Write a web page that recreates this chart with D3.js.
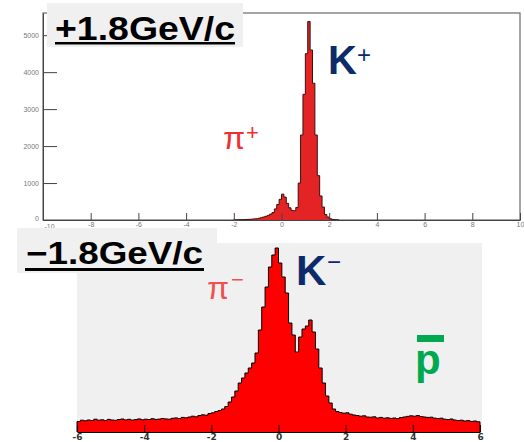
<!DOCTYPE html>
<html>
<head>
<meta charset="utf-8">
<script src="https://cdn.jsdelivr.net/npm/d3@7"></script>
<style>
  body { margin: 0; background: #fff; }
  svg { display: block; }
</style>
</head>
<body>
<div id="chart"></div>
<script>
// +1.8 GeV/c : bins of 0.1 starting at -2.0 (zero elsewhere)
const topStart = -2.0;
const topBinWidth = 0.1;
const topCounts = [5, 6, 8, 10, 12, 15, 18, 22, 28, 35,
  45, 60, 80, 100, 125, 160, 200, 300, 420, 560,
  700, 620, 450, 330, 260, 250, 340, 1000, 2300, 3400,
  4500, 5370, 4600, 3700, 2300, 1200, 650, 350, 150, 80,
  35, 15, 8, 4];
const topXTicks = [-10, -8, -6, -4, -2, 0, 2, 4, 6, 8, 10];
const topYTicks = [0, 1000, 2000, 3000, 4000, 5000];

// -1.8 GeV/c : bins of 0.1 from -6 to 6
const botStart = -6.0;
const botBinWidth = 0.1;
const botCounts = [
  105, 118, 112, 120, 115, 128, 118, 122, 115, 126,   // -6.0 .. -5.1
  120, 117, 125, 130, 121, 127, 119, 124, 131, 122,   // -5.0 .. -4.1
  128, 125, 133, 126, 129, 135, 131, 128, 137, 141,   // -4.0 .. -3.1
  135, 146, 142, 150, 158, 152, 165, 172, 168, 185,   // -3.0 .. -2.1
  192, 205, 215, 230, 255, 300, 350, 410, 490, 540,   // -2.0 .. -1.1
  590, 640, 690, 790, 1020, 1250, 1450, 1650, 1770, 1840, // -1.0 .. -0.1
  1690, 1550, 1390, 1090, 970, 800, 950, 1030, 1060, 1120, // 0.0 .. 0.9
  1000, 830, 640, 490, 360, 290, 230, 205, 195, 188,  // 1.0 .. 1.9
  192, 178, 170, 165, 158, 162, 150, 148, 152, 140,   // 2.0 .. 2.9
  146, 138, 142, 136, 140, 134, 145, 150, 156, 162,   // 3.0 .. 3.9
  158, 164, 155, 150, 146, 148, 139, 135, 138, 128,   // 4.0 .. 4.9
  125, 130, 120, 115, 118, 110, 114, 106, 110, 102    // 5.0 .. 5.9
];
const botXTicks = [-6, -4, -2, 0, 2, 4, 6];

const width = 524, height = 442;
const svg = d3.select("#chart").append("svg")
  .attr("width", width).attr("height", height)
  .style("font-family", "'Liberation Sans', Arial, sans-serif");

function histPoints(start, bw, counts) {
  const pts = [[start, 0]];
  counts.forEach((c, i) => pts.push([start + i * bw, c]));
  pts.push([start + counts.length * bw, 0]);
  return pts;
}

// ---------- top panel ----------
const xTop = d3.scaleLinear().domain([-10, 10]).range([43, 520]);
const yTop = d3.scaleLinear().domain([0, 5600]).range([220, 13]);

svg.append("rect")
  .attr("x", xTop(-10)).attr("y", yTop(5600))
  .attr("width", xTop(10) - xTop(-10)).attr("height", yTop(0) - yTop(5600))
  .attr("fill", "#fff").attr("stroke", "#6a6a6a").attr("stroke-width", 1.2);

const topPts = histPoints(topStart, topBinWidth, topCounts);
svg.append("path")
  .attr("d", d3.area().x(d => xTop(d[0])).y0(yTop(0)).y1(d => yTop(d[1]))
    .curve(d3.curveStepAfter)(topPts))
  .attr("fill", "#e42424");
svg.append("path")
  .attr("d", d3.line().x(d => xTop(d[0])).y(d => yTop(d[1]))
    .curve(d3.curveStepAfter)(topPts))
  .attr("fill", "none").attr("stroke", "#3a1010").attr("stroke-width", 1);

const topXAxis = svg.append("g").attr("transform", `translate(0,${yTop(0)})`);
topXAxis.call(d3.axisBottom(xTop).tickValues(d3.range(-10, 10.01, 0.5))
  .tickSize(-3.5).tickSizeOuter(0).tickFormat(""));
topXAxis.call(d3.axisBottom(xTop).tickValues(topXTicks)
  .tickSize(-7).tickSizeOuter(0).tickPadding(2).tickFormat(d => d));
topXAxis.selectAll("path, line").attr("stroke", "#444");
topXAxis.selectAll("text").attr("fill", "#777").style("font-size", "7px");
// first label sits right of the y-axis zero, as in the original
topXAxis.selectAll(".tick text").filter(d => d === -10)
  .attr("text-anchor", "start").attr("x", 1).attr("dy", "1em");

const topYAxis = svg.append("g").attr("transform", `translate(${xTop(-10)},0)`);
topYAxis.call(d3.axisLeft(yTop).tickValues(d3.range(0, 5601, 200))
  .tickSize(-7).tickSizeOuter(0).tickFormat(""));
topYAxis.call(d3.axisLeft(yTop).tickValues(topYTicks)
  .tickSize(-14).tickSizeOuter(0).tickPadding(4).tickFormat(d => d));
topYAxis.selectAll("path, line").attr("stroke", "#444");
topYAxis.selectAll("text").attr("fill", "#777").style("font-size", "7px");
topYAxis.selectAll(".tick text").filter(d => d === 0).attr("dy", "0.1em");

// label box +1.8GeV/c
svg.append("rect").attr("x", 47).attr("y", 3).attr("width", 196).attr("height", 44)
  .attr("fill", "#f0f0f0");
svg.append("text").attr("x", 55).attr("y", 40)
  .attr("textLength", 180).attr("lengthAdjust", "spacingAndGlyphs")
  .style("font-size", "33px").style("font-weight", "bold").attr("fill", "#000")
  .text("+1.8GeV/c");
svg.append("rect").attr("x", 55).attr("y", 42).attr("width", 180).attr("height", 2.5)
  .attr("fill", "#000");

// particle labels top
svg.append("text").attr("x", 328).attr("y", 74)
  .style("font-size", "40px").style("font-weight", "bold").attr("fill", "#0d2a6b")
  .text("K");
svg.append("text").attr("x", 357).attr("y", 63)
  .style("font-size", "24px").attr("fill", "#0d2a6b").text("+");
svg.append("text").attr("x", 223).attr("y", 149)
  .style("font-size", "32px").attr("fill", "#f03030").text("π");
svg.append("text").attr("x", 246).attr("y", 140)
  .style("font-size", "22px").attr("fill", "#f03030").text("+");

// ---------- bottom panel ----------
const xBot = d3.scaleLinear().domain([-6, 6]).range([77, 480]);
const yBot = d3.scaleLinear().domain([0, 1890]).range([432, 243]);

svg.append("rect")
  .attr("x", xBot(-6)).attr("y", yBot(1890))
  .attr("width", xBot(6) - xBot(-6) + 2).attr("height", yBot(0) - yBot(1890))
  .attr("fill", "#f0f0f0");

const botPts = histPoints(botStart, botBinWidth, botCounts);
svg.append("path")
  .attr("d", d3.area().x(d => xBot(d[0])).y0(yBot(0)).y1(d => yBot(d[1]))
    .curve(d3.curveStepAfter)(botPts))
  .attr("fill", "#ff0000");
svg.append("path")
  .attr("d", d3.line().x(d => xBot(d[0])).y(d => yBot(d[1]))
    .curve(d3.curveStepAfter)(botPts))
  .attr("fill", "none").attr("stroke", "#000").attr("stroke-width", 1);

const botXAxis = svg.append("g").attr("transform", `translate(0,${yBot(0)})`);
botXAxis.call(d3.axisBottom(xBot).tickValues(d3.range(-6, 6.01, 0.5))
  .tickSize(-4).tickSizeOuter(0).tickFormat(""));
botXAxis.call(d3.axisBottom(xBot).tickValues(botXTicks)
  .tickSize(-7).tickSizeOuter(0).tickPadding(2).tickFormat(d => d));
botXAxis.selectAll("path, line").attr("stroke", "#000");
botXAxis.selectAll("text").attr("fill", "#333")
  .style("font-family", "'DejaVu Sans', Verdana, sans-serif")
  .style("font-size", "9px").style("font-weight", "bold");

// label box -1.8GeV/c
svg.append("rect").attr("x", 17).attr("y", 228).attr("width", 200).attr("height", 45)
  .attr("fill", "#f0f0f0");
svg.append("text").attr("x", 26).attr("y", 264)
  .attr("textLength", 177).attr("lengthAdjust", "spacingAndGlyphs")
  .style("font-size", "31px").style("font-weight", "bold").attr("fill", "#000")
  .text("−1.8GeV/c");
svg.append("rect").attr("x", 25).attr("y", 268).attr("width", 179).attr("height", 3)
  .attr("fill", "#000");

// particle labels bottom
svg.append("text").attr("x", 296).attr("y", 285)
  .style("font-size", "42px").style("font-weight", "bold").attr("fill", "#0d2a6b")
  .text("K");
svg.append("text").attr("x", 327).attr("y", 270)
  .style("font-size", "24px").attr("fill", "#0d2a6b").text("−");
svg.append("text").attr("x", 207).attr("y", 299)
  .style("font-size", "32px").attr("fill", "#f05050").text("π");
svg.append("text").attr("x", 231).attr("y", 287)
  .style("font-size", "22px").attr("fill", "#f05050").text("−");
svg.append("rect").attr("x", 417).attr("y", 335).attr("width", 27).attr("height", 7)
  .attr("fill", "#00a850");
svg.append("text").attr("x", 415).attr("y", 374)
  .style("font-size", "42px").style("font-weight", "bold").attr("fill", "#00a850")
  .text("p");
</script>
</body>
</html>
